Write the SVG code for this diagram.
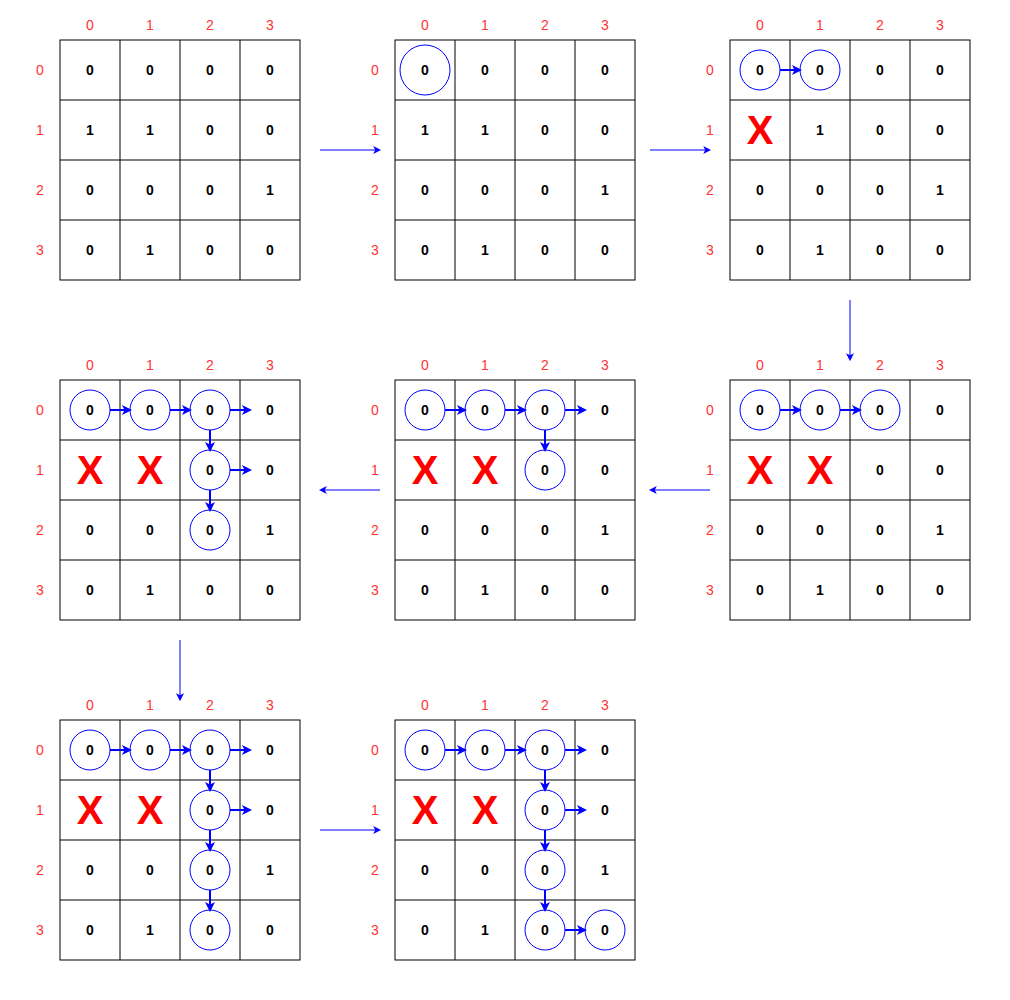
<svg xmlns="http://www.w3.org/2000/svg" width="1010" height="1000" viewBox="0 0 1010 1000">
<style>
.cell{fill:#fff;stroke:#000;stroke-width:1}
.n{font-family:"Liberation Sans",Arial,sans-serif;font-size:14px;font-weight:bold;fill:#000;text-anchor:middle}
.lab{font-family:"Liberation Sans",Arial,sans-serif;font-size:14px;fill:#ff3333;text-anchor:middle}
.x{font-family:"Liberation Sans",Arial,sans-serif;font-size:40px;font-weight:bold;fill:#ff0000;text-anchor:middle}
.c{fill:none;stroke:#0000ff;stroke-width:1}
.sa{stroke:#0000ff;stroke-width:2;fill:none;marker-end:url(#sh)}
.ba{stroke:#0000ff;stroke-width:1;fill:none;marker-end:url(#bh)}
</style>
<defs>
<marker id="sh" markerUnits="userSpaceOnUse" viewBox="0 0 10 10" markerWidth="10" markerHeight="10" refX="4" refY="5" orient="auto">
<path d="M0,0 L10,5 L0,10 L2.5,5 z" fill="#0000ff"/>
</marker>
<marker id="bh" markerUnits="userSpaceOnUse" viewBox="0 0 10 10" markerWidth="8" markerHeight="8" refX="6" refY="5" orient="auto">
<path d="M0,0 L10,5 L0,10 L2.5,5 z" fill="#0000ff"/>
</marker>
<g id="grid">
<rect class="cell" x="0" y="0" width="240" height="240"/>
<path d="M60,0V240M120,0V240M180,0V240M0,60H240M0,120H240M0,180H240" stroke="#000" stroke-width="1"/>
<text class="lab" x="30" y="-10">0</text><text class="lab" x="90" y="-10">1</text><text class="lab" x="150" y="-10">2</text><text class="lab" x="210" y="-10">3</text>
<text class="lab" x="-20" y="35">0</text><text class="lab" x="-20" y="95">1</text><text class="lab" x="-20" y="155">2</text><text class="lab" x="-20" y="215">3</text>
<text class="n" x="30" y="35">0</text><text class="n" x="90" y="35">0</text><text class="n" x="150" y="35">0</text><text class="n" x="210" y="35">0</text>
<text class="n" x="150" y="95">0</text><text class="n" x="210" y="95">0</text>
<text class="n" x="30" y="155">0</text><text class="n" x="90" y="155">0</text><text class="n" x="150" y="155">0</text><text class="n" x="210" y="155">1</text>
<text class="n" x="30" y="215">0</text><text class="n" x="90" y="215">1</text><text class="n" x="150" y="215">0</text><text class="n" x="210" y="215">0</text>
</g>
<g id="ones">
<text class="n" x="30" y="95">1</text><text class="n" x="90" y="95">1</text>
</g>
</defs>

<g id="grid-a" transform="translate(60,40)">
<use href="#grid"/><use href="#ones"/>
</g>

<g id="grid-b" transform="translate(395,40)">
<use href="#grid"/><use href="#ones"/>
<circle class="c" cx="30" cy="30" r="25"/>
</g>

<g id="grid-c" transform="translate(730,40)">
<use href="#grid"/>
<text class="n" x="90" y="95">1</text>
<text class="x" x="30" y="104">X</text>
<circle class="c" cx="30" cy="30" r="20"/><circle class="c" cx="90" cy="30" r="20"/>
<path class="sa" d="M50,30H66"/>
</g>

<g id="grid-f" transform="translate(730,380)">
<use href="#grid"/>
<text class="x" x="30" y="104">X</text><text class="x" x="90" y="104">X</text>
<circle class="c" cx="30" cy="30" r="20"/><circle class="c" cx="90" cy="30" r="20"/><circle class="c" cx="150" cy="30" r="20"/>
<path class="sa" d="M50,30H66"/><path class="sa" d="M110,30H126"/>
</g>

<g id="grid-e" transform="translate(395,380)">
<use href="#grid"/>
<text class="x" x="30" y="104">X</text><text class="x" x="90" y="104">X</text>
<circle class="c" cx="30" cy="30" r="20"/><circle class="c" cx="90" cy="30" r="20"/><circle class="c" cx="150" cy="30" r="20"/>
<circle class="c" cx="150" cy="90" r="20"/>
<path class="sa" d="M50,30H66"/><path class="sa" d="M110,30H126"/><path class="sa" d="M170,30H186"/>
<path class="sa" d="M150,50V66"/>
</g>

<g id="grid-d" transform="translate(60,380)">
<use href="#grid"/>
<text class="x" x="30" y="104">X</text><text class="x" x="90" y="104">X</text>
<circle class="c" cx="30" cy="30" r="20"/><circle class="c" cx="90" cy="30" r="20"/><circle class="c" cx="150" cy="30" r="20"/>
<circle class="c" cx="150" cy="90" r="20"/><circle class="c" cx="150" cy="150" r="20"/>
<path class="sa" d="M50,30H66"/><path class="sa" d="M110,30H126"/><path class="sa" d="M170,30H186"/>
<path class="sa" d="M150,50V66"/><path class="sa" d="M170,90H186"/><path class="sa" d="M150,110V126"/>
</g>

<g id="grid-g" transform="translate(60,720)">
<use href="#grid"/>
<text class="x" x="30" y="104">X</text><text class="x" x="90" y="104">X</text>
<circle class="c" cx="30" cy="30" r="20"/><circle class="c" cx="90" cy="30" r="20"/><circle class="c" cx="150" cy="30" r="20"/>
<circle class="c" cx="150" cy="90" r="20"/><circle class="c" cx="150" cy="150" r="20"/><circle class="c" cx="150" cy="210" r="20"/>
<path class="sa" d="M50,30H66"/><path class="sa" d="M110,30H126"/><path class="sa" d="M170,30H186"/>
<path class="sa" d="M150,50V66"/><path class="sa" d="M170,90H186"/><path class="sa" d="M150,110V126"/><path class="sa" d="M150,170V186"/>
</g>

<g id="grid-h" transform="translate(395,720)">
<use href="#grid"/>
<text class="x" x="30" y="104">X</text><text class="x" x="90" y="104">X</text>
<circle class="c" cx="30" cy="30" r="20"/><circle class="c" cx="90" cy="30" r="20"/><circle class="c" cx="150" cy="30" r="20"/>
<circle class="c" cx="150" cy="90" r="20"/><circle class="c" cx="150" cy="150" r="20"/><circle class="c" cx="150" cy="210" r="20"/>
<circle class="c" cx="210" cy="210" r="20"/>
<path class="sa" d="M50,30H66"/><path class="sa" d="M110,30H126"/><path class="sa" d="M170,30H186"/>
<path class="sa" d="M150,50V66"/><path class="sa" d="M170,90H186"/><path class="sa" d="M150,110V126"/><path class="sa" d="M150,170V186"/>
<path class="sa" d="M170,210H186"/>
</g>

<g id="connectors">
<path class="ba" d="M320,150H378"/>
<path class="ba" d="M650,150H708"/>
<path class="ba" d="M850,300V358"/>
<path class="ba" d="M710,490H652"/>
<path class="ba" d="M380,490H322"/>
<path class="ba" d="M180,640V698"/>
<path class="ba" d="M320,830H378"/>
</g>
</svg>
